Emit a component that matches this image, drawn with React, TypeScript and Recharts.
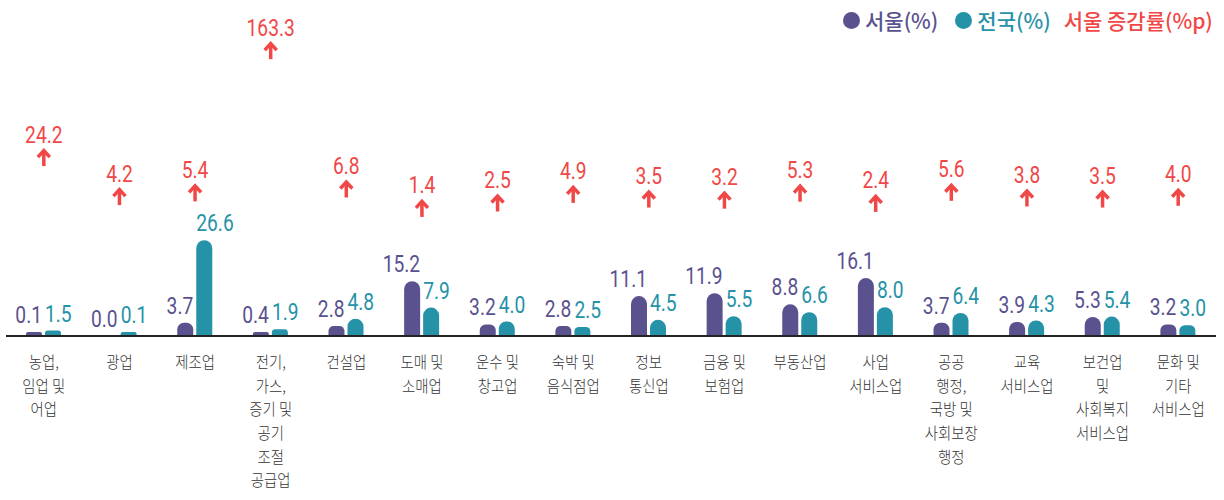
import React from 'react';
import { ComposedChart, Bar, Line, XAxis, YAxis, LabelList } from 'recharts';

const categories = [
  '농업,\n임업 및\n어업',
  '광업',
  '제조업',
  '전기,\n가스,\n증기 및\n공기\n조절\n공급업',
  '건설업',
  '도매 및\n소매업',
  '운수 및\n창고업',
  '숙박 및\n음식점업',
  '정보\n통신업',
  '금융 및\n보험업',
  '부동산업',
  '사업\n서비스업',
  '공공\n행정,\n국방 및\n사회보장\n행정',
  '교육\n서비스업',
  '보건업\n및\n사회복지\n서비스업',
  '문화 및\n기타\n서비스업',
];

const seoul = [0.1, 0.0, 3.7, 0.4, 2.8, 15.2, 3.2, 2.8, 11.1, 11.9, 8.8, 16.1, 3.7, 3.9, 5.3, 3.2];
const nation = [1.5, 0.1, 26.6, 1.9, 4.8, 7.9, 4.0, 2.5, 4.5, 5.5, 6.6, 8.0, 6.4, 4.3, 5.4, 3.0];
const change = [24.2, 4.2, 5.4, 163.3, 6.8, 1.4, 2.5, 4.9, 3.5, 3.2, 5.3, 2.4, 5.6, 3.8, 3.5, 4.0];

const legendLabels = ['서울(%)', '전국(%)', '서울 증감률(%p)'];

const PURPLE = '#5a528f';
const TEAL = '#2592a8';
const RED = '#f04747';
const GRAY = '#333333';

const NUM_FONT = "Roboto, 'DejaVu Sans', sans-serif";
const KR_FONT = "'Noto Sans CJK KR', sans-serif";

const data = categories.map((name, i) => ({
  name,
  seoul: seoul[i],
  nation: nation[i],
  change: change[i],
}));

const NumText = ({ x, y, anchor, fill, text }: any) => (
  <text transform={`translate(${x},${y}) scale(0.8,1)`} x={0} y={0} textAnchor={anchor} fill={fill}
    fontFamily={NUM_FONT} fontWeight={400} fontSize={24}>
    {text}
  </text>
);

const SeoulLabel = (props: any) => {
  const { x, y, width, value } = props;
  return <NumText x={Number(x) + Number(width)} y={Number(y) - 9} anchor="end" fill={PURPLE}
    text={Number(value).toFixed(1)} />;
};

const NationLabel = (props: any) => {
  const { x, y, value } = props;
  return <NumText x={Number(x)} y={Number(y) - 9} anchor="start" fill={TEAL}
    text={Number(value).toFixed(1)} />;
};

const ChangeLabel = (props: any) => {
  const { x, y, value } = props;
  const cx = Number(x);
  const cy = Number(y) - 135;
  return (
    <g>
      <NumText x={cx} y={cy + 8.5} anchor="middle" fill={RED} text={Number(value).toFixed(1)} />
      <path d={`M${cx},${cy + 18} L${cx},${cy + 32}`} stroke={RED} strokeWidth={3.5} fill="none" />
      <path d={`M${cx - 6},${cy + 23} L${cx},${cy + 16.5} L${cx + 6},${cy + 23}`} stroke={RED}
        strokeWidth={3.5} fill="none" />
    </g>
  );
};

const CategoryTick = (props: any) => {
  const { x, y, payload } = props;
  const lines = String(payload.value).split('\n');
  return (
    <g transform={`translate(${x},${Number(y) + 30}) scale(0.9,1)`}>
      <text x={0} y={0} textAnchor="middle" fill={GRAY} fontFamily={KR_FONT} fontWeight={300} fontSize={16}>
        {lines.map((l, i) => (
          <tspan key={i} x={0} dy={i === 0 ? 0 : 23.7}>{l}</tspan>
        ))}
      </text>
    </g>
  );
};

const legendColors = [PURPLE, TEAL, RED];

const minSize = (v: any) => (Number(v) > 0 ? 4 : 0.01);

export default function App() {
  return (
    <div style={{ position: 'absolute', left: 0, top: 0, width: 1224, height: 500, background: '#fff' }}>
      <ComposedChart width={1224} height={500} data={data}
        margin={{ top: 30, right: 8, bottom: 0, left: 6 }} barSize={16} barGap={3}>
        <XAxis dataKey="name" interval={0} tickLine={false} tickSize={0} height={164}
          axisLine={{ stroke: '#222', strokeWidth: 2 }} tick={<CategoryTick />} />
        <YAxis yAxisId="l" domain={[0, 85]} hide />
        <YAxis yAxisId="r" scale="sqrt" domain={[0, 506]} hide />
        <Bar yAxisId="l" dataKey="seoul" fill={PURPLE} radius={[8, 8, 0, 0]} isAnimationActive={false}
          minPointSize={minSize}>
          <LabelList dataKey="seoul" content={<SeoulLabel />} />
        </Bar>
        <Bar yAxisId="l" dataKey="nation" fill={TEAL} radius={[8, 8, 0, 0]} isAnimationActive={false}
          minPointSize={minSize}>
          <LabelList dataKey="nation" content={<NationLabel />} />
        </Bar>
        <Line yAxisId="r" dataKey="change" stroke="none" dot={false} activeDot={false}
          isAnimationActive={false}>
          <LabelList dataKey="change" content={<ChangeLabel />} />
        </Line>
      </ComposedChart>
      <div style={{ position: 'absolute', left: 843, top: 8, display: 'flex', alignItems: 'center',
        fontFamily: KR_FONT, fontSize: 21, fontWeight: 500, lineHeight: '25px', whiteSpace: 'nowrap' }}>
        {legendLabels.map((t, i) => (
          <div key={i} style={{ display: 'flex', alignItems: 'center', marginRight: i === 0 ? 17 : 13 }}>
            {i < 2 && (
              <span style={{ display: 'inline-block', width: 17, height: 17, borderRadius: '50%',
                background: legendColors[i], marginRight: 5 }} />
            )}
            <span style={{ color: legendColors[i] }}>{t}</span>
          </div>
        ))}
      </div>
    </div>
  );
}
